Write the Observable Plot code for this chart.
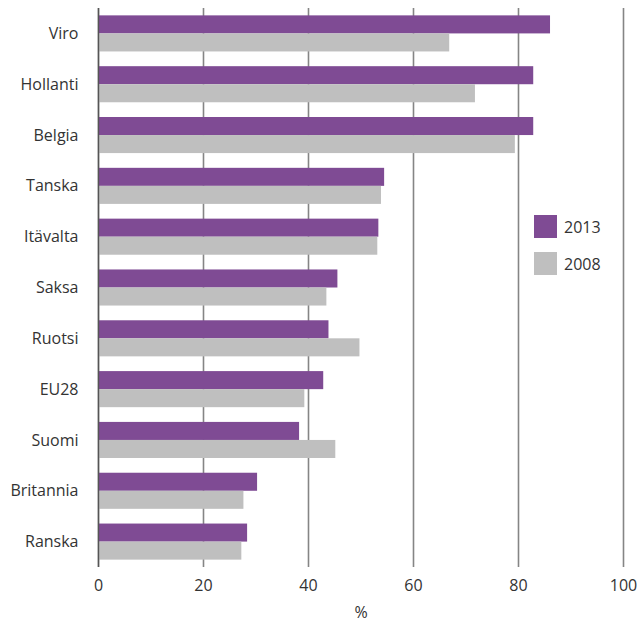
<!DOCTYPE html>
<html>
<head>
<meta charset="utf-8">
<script src="https://cdn.jsdelivr.net/npm/d3@7"></script>
<script src="https://cdn.jsdelivr.net/npm/@observablehq/plot@0.6"></script>
<style>
  html, body { margin: 0; padding: 0; background: #fff; }
  #wrap { position: relative; width: 643px; height: 622px; font-family: "Open Sans", sans-serif; }
  #legend { position: absolute; left: 534px; top: 215px; font-size: 16px; color: #333; }
  .item { display: flex; align-items: center; height: 23px; margin-bottom: 14px; }
  .sw { width: 23px; height: 23px; margin-right: 7px; }
</style>
</head>
<body>
<div id="wrap"><div id="legend"></div></div>
<script>
const countries = ["Viro", "Hollanti", "Belgia", "Tanska", "Itävalta", "Saksa", "Ruotsi", "EU28", "Suomi", "Britannia", "Ranska"];
const values2013 = [86.1, 82.9, 82.9, 54.5, 53.4, 45.6, 43.9, 42.9, 38.3, 30.3, 28.4];
const values2008 = [66.9, 71.8, 79.4, 53.9, 53.2, 43.5, 49.8, 39.3, 45.2, 27.7, 27.3];
const years = ["2013", "2008"];
const colors = ["#7f4b94", "#bfbfbf"];
const xTicks = [0, 20, 40, 60, 80, 100];

const data = [];
countries.forEach((c, i) => {
  data.push({country: c, year: years[0], value: values2013[i]});
  data.push({country: c, year: years[1], value: values2008[i]});
});

const width = 643, height = 622;
const marginTop = 8, marginBottom = 55, marginLeft = 98, marginRight = 20;
const pInner = 0.29, pOuter = 0.145;
const step = (height - marginTop - marginBottom) / (countries.length - pInner + 2 * pOuter);
const bw = step * (1 - pInner);

const chart = Plot.plot({
  width, height, marginTop, marginBottom, marginLeft, marginRight,
  style: {fontFamily: "'Open Sans', sans-serif", fontSize: "16px", color: "#333", background: "#fff"},
  x: {domain: [0, 100]},
  y: {domain: countries, paddingInner: pInner, paddingOuter: pOuter, round: false},
  color: {domain: years, range: colors},
  marks: [
    Plot.ruleX(xTicks, {stroke: "#858585", strokeWidth: 1.6, strokeOpacity: 1}),
    Plot.barX(data.filter(d => d.year === years[0]), {x: "value", y: "country", fill: colors[0], insetBottom: bw / 2, insetTop: 0}),
    Plot.barX(data.filter(d => d.year === years[1]), {x: "value", y: "country", fill: colors[1], insetTop: bw / 2, insetBottom: 0}),
    Plot.ruleX([0], {stroke: "#555", strokeWidth: 1.4}),
    Plot.axisX({ticks: xTicks, tickSize: 0, tickPadding: 12, fontSize: 16, label: "%", labelAnchor: "center", labelArrow: "none", labelOffset: 50, labelOffsetX: 0}),
    Plot.axisY({tickSize: 0, tickPadding: 20, fontSize: 16, label: null})
  ]
});
document.getElementById("wrap").prepend(chart);

const legend = document.getElementById("legend");
years.forEach((y, i) => {
  const item = document.createElement("div");
  item.className = "item";
  const sw = document.createElement("div");
  sw.className = "sw";
  sw.style.background = colors[i];
  const t = document.createElement("span");
  t.textContent = y;
  item.append(sw, t);
  legend.append(item);
});
</script>
</body>
</html>
